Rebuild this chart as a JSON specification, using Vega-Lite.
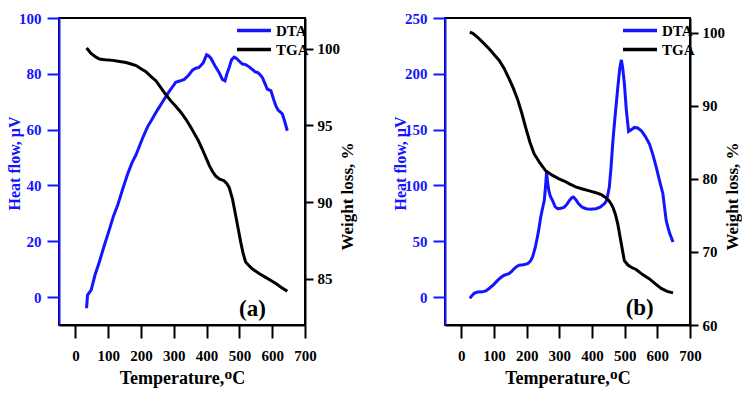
{
  "$schema": "https://vega.github.io/schema/vega-lite/v6.json",
  "padding": {"left": 5, "top": 10, "right": 0, "bottom": 0},
  "background": "white",
  "datasets": {
    "thermal": [
      {"sample": "a", "series": "DTA", "T": 34, "value": -4.0},
      {"sample": "a", "series": "DTA", "T": 37, "value": 0.7},
      {"sample": "a", "series": "DTA", "T": 48, "value": 2.5},
      {"sample": "a", "series": "DTA", "T": 60, "value": 8},
      {"sample": "a", "series": "DTA", "T": 73, "value": 12.6},
      {"sample": "a", "series": "DTA", "T": 88, "value": 18.5},
      {"sample": "a", "series": "DTA", "T": 103, "value": 24},
      {"sample": "a", "series": "DTA", "T": 116, "value": 29},
      {"sample": "a", "series": "DTA", "T": 129, "value": 33},
      {"sample": "a", "series": "DTA", "T": 145, "value": 39},
      {"sample": "a", "series": "DTA", "T": 159, "value": 44},
      {"sample": "a", "series": "DTA", "T": 172, "value": 48},
      {"sample": "a", "series": "DTA", "T": 185, "value": 51},
      {"sample": "a", "series": "DTA", "T": 205, "value": 57},
      {"sample": "a", "series": "DTA", "T": 220, "value": 61},
      {"sample": "a", "series": "DTA", "T": 235, "value": 64},
      {"sample": "a", "series": "DTA", "T": 250, "value": 67},
      {"sample": "a", "series": "DTA", "T": 266, "value": 70},
      {"sample": "a", "series": "DTA", "T": 285, "value": 73.5},
      {"sample": "a", "series": "DTA", "T": 306, "value": 77},
      {"sample": "a", "series": "DTA", "T": 320, "value": 77.5},
      {"sample": "a", "series": "DTA", "T": 332, "value": 78},
      {"sample": "a", "series": "DTA", "T": 345, "value": 79.5},
      {"sample": "a", "series": "DTA", "T": 357, "value": 81.3},
      {"sample": "a", "series": "DTA", "T": 367, "value": 82},
      {"sample": "a", "series": "DTA", "T": 377, "value": 82.3},
      {"sample": "a", "series": "DTA", "T": 390, "value": 84},
      {"sample": "a", "series": "DTA", "T": 400, "value": 86.8},
      {"sample": "a", "series": "DTA", "T": 406, "value": 86.5},
      {"sample": "a", "series": "DTA", "T": 413, "value": 85.6},
      {"sample": "a", "series": "DTA", "T": 425, "value": 83},
      {"sample": "a", "series": "DTA", "T": 438, "value": 80.5},
      {"sample": "a", "series": "DTA", "T": 448, "value": 78},
      {"sample": "a", "series": "DTA", "T": 456, "value": 77.5},
      {"sample": "a", "series": "DTA", "T": 462, "value": 80},
      {"sample": "a", "series": "DTA", "T": 469, "value": 82.3},
      {"sample": "a", "series": "DTA", "T": 476, "value": 85},
      {"sample": "a", "series": "DTA", "T": 484, "value": 86},
      {"sample": "a", "series": "DTA", "T": 491, "value": 85.5},
      {"sample": "a", "series": "DTA", "T": 499, "value": 84.6},
      {"sample": "a", "series": "DTA", "T": 509, "value": 83.5},
      {"sample": "a", "series": "DTA", "T": 519, "value": 83.3},
      {"sample": "a", "series": "DTA", "T": 530, "value": 82.5},
      {"sample": "a", "series": "DTA", "T": 540, "value": 81.5},
      {"sample": "a", "series": "DTA", "T": 548, "value": 80.7},
      {"sample": "a", "series": "DTA", "T": 555, "value": 80.5},
      {"sample": "a", "series": "DTA", "T": 562, "value": 79.8},
      {"sample": "a", "series": "DTA", "T": 570, "value": 78.7},
      {"sample": "a", "series": "DTA", "T": 578, "value": 76.5},
      {"sample": "a", "series": "DTA", "T": 585, "value": 74.5},
      {"sample": "a", "series": "DTA", "T": 591, "value": 74.2},
      {"sample": "a", "series": "DTA", "T": 596, "value": 74},
      {"sample": "a", "series": "DTA", "T": 604, "value": 71},
      {"sample": "a", "series": "DTA", "T": 611, "value": 68.6},
      {"sample": "a", "series": "DTA", "T": 618, "value": 67},
      {"sample": "a", "series": "DTA", "T": 626, "value": 66.2},
      {"sample": "a", "series": "DTA", "T": 631, "value": 65.6},
      {"sample": "a", "series": "DTA", "T": 638, "value": 63},
      {"sample": "a", "series": "DTA", "T": 646, "value": 59.6},

      {"sample": "a", "series": "TGA", "T": 34, "value": 100.05},
      {"sample": "a", "series": "TGA", "T": 40, "value": 99.9},
      {"sample": "a", "series": "TGA", "T": 47, "value": 99.7},
      {"sample": "a", "series": "TGA", "T": 53, "value": 99.6},
      {"sample": "a", "series": "TGA", "T": 63, "value": 99.45},
      {"sample": "a", "series": "TGA", "T": 73, "value": 99.33},
      {"sample": "a", "series": "TGA", "T": 90, "value": 99.28},
      {"sample": "a", "series": "TGA", "T": 114, "value": 99.24},
      {"sample": "a", "series": "TGA", "T": 135, "value": 99.17},
      {"sample": "a", "series": "TGA", "T": 154, "value": 99.1},
      {"sample": "a", "series": "TGA", "T": 170, "value": 99.0},
      {"sample": "a", "series": "TGA", "T": 185, "value": 98.9},
      {"sample": "a", "series": "TGA", "T": 200, "value": 98.7},
      {"sample": "a", "series": "TGA", "T": 215, "value": 98.5},
      {"sample": "a", "series": "TGA", "T": 230, "value": 98.2},
      {"sample": "a", "series": "TGA", "T": 246, "value": 97.9},
      {"sample": "a", "series": "TGA", "T": 261, "value": 97.45},
      {"sample": "a", "series": "TGA", "T": 276, "value": 97.0},
      {"sample": "a", "series": "TGA", "T": 291, "value": 96.6},
      {"sample": "a", "series": "TGA", "T": 306, "value": 96.25},
      {"sample": "a", "series": "TGA", "T": 322, "value": 95.85},
      {"sample": "a", "series": "TGA", "T": 337, "value": 95.4},
      {"sample": "a", "series": "TGA", "T": 350, "value": 94.95},
      {"sample": "a", "series": "TGA", "T": 362, "value": 94.5},
      {"sample": "a", "series": "TGA", "T": 375, "value": 94.0},
      {"sample": "a", "series": "TGA", "T": 388, "value": 93.4},
      {"sample": "a", "series": "TGA", "T": 398, "value": 92.9},
      {"sample": "a", "series": "TGA", "T": 408, "value": 92.4},
      {"sample": "a", "series": "TGA", "T": 418, "value": 92.0},
      {"sample": "a", "series": "TGA", "T": 428, "value": 91.7},
      {"sample": "a", "series": "TGA", "T": 440, "value": 91.5},
      {"sample": "a", "series": "TGA", "T": 453, "value": 91.4},
      {"sample": "a", "series": "TGA", "T": 462, "value": 91.2},
      {"sample": "a", "series": "TGA", "T": 469, "value": 90.95},
      {"sample": "a", "series": "TGA", "T": 479, "value": 90.2},
      {"sample": "a", "series": "TGA", "T": 489, "value": 89.1},
      {"sample": "a", "series": "TGA", "T": 496, "value": 88.3},
      {"sample": "a", "series": "TGA", "T": 504, "value": 87.4},
      {"sample": "a", "series": "TGA", "T": 511, "value": 86.7},
      {"sample": "a", "series": "TGA", "T": 519, "value": 86.1},
      {"sample": "a", "series": "TGA", "T": 530, "value": 85.85},
      {"sample": "a", "series": "TGA", "T": 540, "value": 85.65},
      {"sample": "a", "series": "TGA", "T": 560, "value": 85.35},
      {"sample": "a", "series": "TGA", "T": 580, "value": 85.1},
      {"sample": "a", "series": "TGA", "T": 596, "value": 84.9},
      {"sample": "a", "series": "TGA", "T": 611, "value": 84.7},
      {"sample": "a", "series": "TGA", "T": 628, "value": 84.45},
      {"sample": "a", "series": "TGA", "T": 646, "value": 84.2},

      {"sample": "b", "series": "DTA", "T": 26, "value": -1.2},
      {"sample": "b", "series": "DTA", "T": 33, "value": 1.5},
      {"sample": "b", "series": "DTA", "T": 39, "value": 3.3},
      {"sample": "b", "series": "DTA", "T": 50, "value": 4.5},
      {"sample": "b", "series": "DTA", "T": 64, "value": 4.7},
      {"sample": "b", "series": "DTA", "T": 75, "value": 5.5},
      {"sample": "b", "series": "DTA", "T": 85, "value": 7.7},
      {"sample": "b", "series": "DTA", "T": 98, "value": 11},
      {"sample": "b", "series": "DTA", "T": 111, "value": 15},
      {"sample": "b", "series": "DTA", "T": 121, "value": 17.5},
      {"sample": "b", "series": "DTA", "T": 131, "value": 19.6},
      {"sample": "b", "series": "DTA", "T": 146, "value": 21},
      {"sample": "b", "series": "DTA", "T": 154, "value": 23},
      {"sample": "b", "series": "DTA", "T": 162, "value": 25.6},
      {"sample": "b", "series": "DTA", "T": 170, "value": 27.5},
      {"sample": "b", "series": "DTA", "T": 177, "value": 28.6},
      {"sample": "b", "series": "DTA", "T": 190, "value": 29},
      {"sample": "b", "series": "DTA", "T": 203, "value": 30},
      {"sample": "b", "series": "DTA", "T": 211, "value": 32},
      {"sample": "b", "series": "DTA", "T": 218, "value": 36},
      {"sample": "b", "series": "DTA", "T": 226, "value": 44},
      {"sample": "b", "series": "DTA", "T": 233, "value": 54},
      {"sample": "b", "series": "DTA", "T": 238, "value": 62},
      {"sample": "b", "series": "DTA", "T": 243, "value": 71.7},
      {"sample": "b", "series": "DTA", "T": 249, "value": 80},
      {"sample": "b", "series": "DTA", "T": 254, "value": 86.6},
      {"sample": "b", "series": "DTA", "T": 258, "value": 100},
      {"sample": "b", "series": "DTA", "T": 261, "value": 112},
      {"sample": "b", "series": "DTA", "T": 264, "value": 103},
      {"sample": "b", "series": "DTA", "T": 268, "value": 95},
      {"sample": "b", "series": "DTA", "T": 273, "value": 90},
      {"sample": "b", "series": "DTA", "T": 279, "value": 86.6},
      {"sample": "b", "series": "DTA", "T": 287, "value": 81},
      {"sample": "b", "series": "DTA", "T": 295, "value": 79.2},
      {"sample": "b", "series": "DTA", "T": 305, "value": 79.5},
      {"sample": "b", "series": "DTA", "T": 315, "value": 80.6},
      {"sample": "b", "series": "DTA", "T": 323, "value": 83},
      {"sample": "b", "series": "DTA", "T": 331, "value": 86.6},
      {"sample": "b", "series": "DTA", "T": 338, "value": 89},
      {"sample": "b", "series": "DTA", "T": 343, "value": 89.6},
      {"sample": "b", "series": "DTA", "T": 350, "value": 87.5},
      {"sample": "b", "series": "DTA", "T": 359, "value": 83.6},
      {"sample": "b", "series": "DTA", "T": 370, "value": 80.5},
      {"sample": "b", "series": "DTA", "T": 382, "value": 79.2},
      {"sample": "b", "series": "DTA", "T": 395, "value": 78.8},
      {"sample": "b", "series": "DTA", "T": 412, "value": 79.2},
      {"sample": "b", "series": "DTA", "T": 425, "value": 80.5},
      {"sample": "b", "series": "DTA", "T": 438, "value": 83.6},
      {"sample": "b", "series": "DTA", "T": 445, "value": 86.6},
      {"sample": "b", "series": "DTA", "T": 453, "value": 98.5},
      {"sample": "b", "series": "DTA", "T": 458, "value": 115},
      {"sample": "b", "series": "DTA", "T": 464, "value": 140},
      {"sample": "b", "series": "DTA", "T": 471, "value": 163},
      {"sample": "b", "series": "DTA", "T": 479, "value": 187.8},
      {"sample": "b", "series": "DTA", "T": 485, "value": 205},
      {"sample": "b", "series": "DTA", "T": 490, "value": 212.5},
      {"sample": "b", "series": "DTA", "T": 494, "value": 205},
      {"sample": "b", "series": "DTA", "T": 499, "value": 191.7},
      {"sample": "b", "series": "DTA", "T": 505, "value": 168},
      {"sample": "b", "series": "DTA", "T": 512, "value": 148.5},
      {"sample": "b", "series": "DTA", "T": 520, "value": 150},
      {"sample": "b", "series": "DTA", "T": 530, "value": 152},
      {"sample": "b", "series": "DTA", "T": 540, "value": 151.5},
      {"sample": "b", "series": "DTA", "T": 551, "value": 149},
      {"sample": "b", "series": "DTA", "T": 563, "value": 144},
      {"sample": "b", "series": "DTA", "T": 576, "value": 137},
      {"sample": "b", "series": "DTA", "T": 587, "value": 127},
      {"sample": "b", "series": "DTA", "T": 597, "value": 116},
      {"sample": "b", "series": "DTA", "T": 607, "value": 104},
      {"sample": "b", "series": "DTA", "T": 617, "value": 92.6},
      {"sample": "b", "series": "DTA", "T": 627, "value": 68.75},
      {"sample": "b", "series": "DTA", "T": 633, "value": 62},
      {"sample": "b", "series": "DTA", "T": 638, "value": 56.9},
      {"sample": "b", "series": "DTA", "T": 648, "value": 49.4},

      {"sample": "b", "series": "TGA", "T": 26, "value": 100.05},
      {"sample": "b", "series": "TGA", "T": 35, "value": 99.9},
      {"sample": "b", "series": "TGA", "T": 49, "value": 99.4},
      {"sample": "b", "series": "TGA", "T": 65, "value": 98.7},
      {"sample": "b", "series": "TGA", "T": 85, "value": 97.8},
      {"sample": "b", "series": "TGA", "T": 100, "value": 97.0},
      {"sample": "b", "series": "TGA", "T": 116, "value": 96.2},
      {"sample": "b", "series": "TGA", "T": 131, "value": 95.1},
      {"sample": "b", "series": "TGA", "T": 146, "value": 93.7},
      {"sample": "b", "series": "TGA", "T": 159, "value": 92.4},
      {"sample": "b", "series": "TGA", "T": 172, "value": 90.9},
      {"sample": "b", "series": "TGA", "T": 185, "value": 89.0},
      {"sample": "b", "series": "TGA", "T": 197, "value": 87.0},
      {"sample": "b", "series": "TGA", "T": 210, "value": 85.0},
      {"sample": "b", "series": "TGA", "T": 223, "value": 83.4},
      {"sample": "b", "series": "TGA", "T": 240, "value": 82.2},
      {"sample": "b", "series": "TGA", "T": 258, "value": 81.1},
      {"sample": "b", "series": "TGA", "T": 278, "value": 80.5},
      {"sample": "b", "series": "TGA", "T": 299, "value": 80.0},
      {"sample": "b", "series": "TGA", "T": 315, "value": 79.7},
      {"sample": "b", "series": "TGA", "T": 331, "value": 79.3},
      {"sample": "b", "series": "TGA", "T": 350, "value": 78.9},
      {"sample": "b", "series": "TGA", "T": 371, "value": 78.6},
      {"sample": "b", "series": "TGA", "T": 392, "value": 78.35},
      {"sample": "b", "series": "TGA", "T": 412, "value": 78.1},
      {"sample": "b", "series": "TGA", "T": 430, "value": 77.8},
      {"sample": "b", "series": "TGA", "T": 443, "value": 77.4},
      {"sample": "b", "series": "TGA", "T": 452, "value": 77.0},
      {"sample": "b", "series": "TGA", "T": 458, "value": 76.6},
      {"sample": "b", "series": "TGA", "T": 464, "value": 76.1},
      {"sample": "b", "series": "TGA", "T": 472, "value": 75.1},
      {"sample": "b", "series": "TGA", "T": 479, "value": 73.8},
      {"sample": "b", "series": "TGA", "T": 489, "value": 71.3},
      {"sample": "b", "series": "TGA", "T": 499, "value": 68.8},
      {"sample": "b", "series": "TGA", "T": 510, "value": 68.2},
      {"sample": "b", "series": "TGA", "T": 520, "value": 67.9},
      {"sample": "b", "series": "TGA", "T": 535, "value": 67.6},
      {"sample": "b", "series": "TGA", "T": 555, "value": 66.9},
      {"sample": "b", "series": "TGA", "T": 576, "value": 66.3},
      {"sample": "b", "series": "TGA", "T": 595, "value": 65.6},
      {"sample": "b", "series": "TGA", "T": 612, "value": 65.0},
      {"sample": "b", "series": "TGA", "T": 630, "value": 64.6},
      {"sample": "b", "series": "TGA", "T": 648, "value": 64.4}
    ],
    "panelTags": [
      {"sample": "a", "label": "(a)", "T": 540, "value": -4.3},
      {"sample": "b", "label": "(b)", "T": 546, "value": -9.8}
    ]
  },
  "spacing": 34,
  "hconcat": [
    {
      "width": 246,
      "height": 307,
      "encoding": {
        "x": {"field": "T", "type": "quantitative", "scale": {"domain": [-50, 700], "nice": false},
              "axis": {"values": [0, 100, 200, 300, 400, 500, 600, 700], "title": "Temperature,ᴼC",
                       "labelFont": "Liberation Serif", "labelFontWeight": "bold", "labelFontSize": 15, "labelColor": "black",
                       "titleFont": "Liberation Serif", "titleFontWeight": "bold", "titleFontSize": 18, "titleColor": "black",
                       "ticks": true, "tickOpacity": 1, "tickSize": 13, "tickWidth": 2, "tickColor": "black",
                       "domainWidth": 2, "domainColor": "black",
                       "labelPadding": 10, "titlePadding": 6, "labelOverlap": false, "labelFlush": false, "grid": false}}
      },
      "layer": [
        {
          "data": {"name": "thermal"},
          "transform": [{"filter": "datum.sample == 'a' && datum.series == 'DTA'"}],
          "mark": {"type": "line", "strokeWidth": 3},
          "encoding": {
            "y": {"field": "value", "type": "quantitative", "scale": {"domain": [-10, 100], "nice": false},
                  "axis": {"orient": "left", "values": [0, 20, 40, 60, 80, 100], "title": "Heat flow, μV",
                           "labelFont": "Liberation Serif", "labelFontWeight": "bold", "labelFontSize": 15,
                           "titleFont": "Liberation Serif", "titleFontWeight": "bold", "titleFontSize": 16,
                           "domainColor": "#1414ff", "tickColor": "#1414ff", "labelColor": "#1414ff", "titleColor": "#1414ff",
                           "domainWidth": 2, "tickWidth": 2, "grid": false, "ticks": true, "tickOpacity": 1,
                           "tickSize": 12, "labelPadding": 6, "titlePadding": -4, "titleY": 145}},
            "color": {"field": "series", "type": "nominal",
                      "scale": {"domain": ["DTA", "TGA"], "range": ["#1414ff", "#000000"]},
                      "legend": {"orient": "none", "legendX": 193, "legendY": 2}}
          }
        },
        {
          "data": {"name": "thermal"},
          "transform": [{"filter": "datum.sample == 'a' && datum.series == 'TGA'"}],
          "mark": {"type": "line", "strokeWidth": 3},
          "encoding": {
            "y": {"field": "value", "type": "quantitative", "scale": {"domain": [82, 102], "nice": false},
                  "axis": {"orient": "right", "values": [85, 90, 95, 100], "title": "Weight loss, %",
                           "labelFont": "Liberation Serif", "labelFontWeight": "bold", "labelFontSize": 15, "labelColor": "black",
                           "titleFont": "Liberation Serif", "titleFontWeight": "bold", "titleFontSize": 17, "titleColor": "black",
                           "domainColor": "black", "tickColor": "black", "domainWidth": 2, "tickWidth": 2, "grid": false,
                           "ticks": true, "tickOpacity": 1,
                           "tickSize": 8, "labelPadding": 4, "titlePadding": 17, "titleAngle": -90, "titleY": 178}},
            "color": {"field": "series", "type": "nominal"}
          }
        },
        {
          "data": {"name": "panelTags"},
          "transform": [{"filter": "datum.sample == 'a'"}],
          "mark": {"type": "text", "fontSize": 23, "fontWeight": "bold", "font": "Liberation Serif", "color": "black", "align": "center", "baseline": "middle"},
          "encoding": {
            "y": {"field": "value", "type": "quantitative", "scale": {"domain": [-10, 100], "nice": false}, "axis": null},
            "text": {"field": "label"}
          }
        }
      ],
      "resolve": {"scale": {"y": "independent"}}
    },
    {
      "width": 245,
      "height": 307,
      "encoding": {
        "x": {"field": "T", "type": "quantitative", "scale": {"domain": [-50, 700], "nice": false},
              "axis": {"values": [0, 100, 200, 300, 400, 500, 600, 700], "title": "Temperature,ᴼC",
                       "labelFont": "Liberation Serif", "labelFontWeight": "bold", "labelFontSize": 15, "labelColor": "black",
                       "titleFont": "Liberation Serif", "titleFontWeight": "bold", "titleFontSize": 18, "titleColor": "black",
                       "ticks": true, "tickOpacity": 1, "tickSize": 13, "tickWidth": 2, "tickColor": "black",
                       "domainWidth": 2, "domainColor": "black",
                       "labelPadding": 10, "titlePadding": 6, "labelOverlap": false, "labelFlush": false, "grid": false}}
      },
      "layer": [
        {
          "data": {"name": "thermal"},
          "transform": [{"filter": "datum.sample == 'b' && datum.series == 'DTA'"}],
          "mark": {"type": "line", "strokeWidth": 3},
          "encoding": {
            "y": {"field": "value", "type": "quantitative", "scale": {"domain": [-25, 250], "nice": false},
                  "axis": {"orient": "left", "values": [0, 50, 100, 150, 200, 250], "title": "Heat flow, μV",
                           "labelFont": "Liberation Serif", "labelFontWeight": "bold", "labelFontSize": 15,
                           "titleFont": "Liberation Serif", "titleFontWeight": "bold", "titleFontSize": 16,
                           "domainColor": "#1414ff", "tickColor": "#1414ff", "labelColor": "#1414ff", "titleColor": "#1414ff",
                           "domainWidth": 2, "tickWidth": 2, "grid": false, "ticks": true, "tickOpacity": 1,
                           "tickSize": 12, "labelPadding": 6, "titlePadding": -4, "titleY": 145}},
            "color": {"field": "series", "type": "nominal",
                      "scale": {"domain": ["DTA", "TGA"], "range": ["#1414ff", "#000000"]},
                      "legend": {"orient": "none", "legendX": 193, "legendY": 2}}
          }
        },
        {
          "data": {"name": "thermal"},
          "transform": [{"filter": "datum.sample == 'b' && datum.series == 'TGA'"}],
          "mark": {"type": "line", "strokeWidth": 3},
          "encoding": {
            "y": {"field": "value", "type": "quantitative", "scale": {"domain": [60, 102], "nice": false},
                  "axis": {"orient": "right", "values": [60, 70, 80, 90, 100], "title": "Weight loss, %",
                           "labelFont": "Liberation Serif", "labelFontWeight": "bold", "labelFontSize": 15, "labelColor": "black",
                           "titleFont": "Liberation Serif", "titleFontWeight": "bold", "titleFontSize": 17, "titleColor": "black",
                           "domainColor": "black", "tickColor": "black", "domainWidth": 2, "tickWidth": 2, "grid": false,
                           "ticks": true, "tickOpacity": 1,
                           "tickSize": 8, "labelPadding": 4, "titlePadding": 17, "titleAngle": -90, "titleY": 178}},
            "color": {"field": "series", "type": "nominal"}
          }
        },
        {
          "data": {"name": "panelTags"},
          "transform": [{"filter": "datum.sample == 'b'"}],
          "mark": {"type": "text", "fontSize": 23, "fontWeight": "bold", "font": "Liberation Serif", "color": "black", "align": "center", "baseline": "middle"},
          "encoding": {
            "y": {"field": "value", "type": "quantitative", "scale": {"domain": [-25, 250], "nice": false}, "axis": null},
            "text": {"field": "label"}
          }
        }
      ],
      "resolve": {"scale": {"y": "independent"}}
    }
  ],
  "resolve": {"scale": {"color": "independent"}},
  "config": {
    "font": "Liberation Serif",
    "view": {"stroke": "black", "strokeWidth": 2},
    "legend": {
      "padding": 0, "title": null,
      "symbolType": "M-3,0H1", "symbolSize": 289, "symbolStrokeWidth": 3.5,
      "labelFont": "Liberation Serif", "labelFontWeight": "bold", "labelFontSize": 15, "labelColor": "black",
      "labelOffset": 3, "rowPadding": 0
    }
  }
}
